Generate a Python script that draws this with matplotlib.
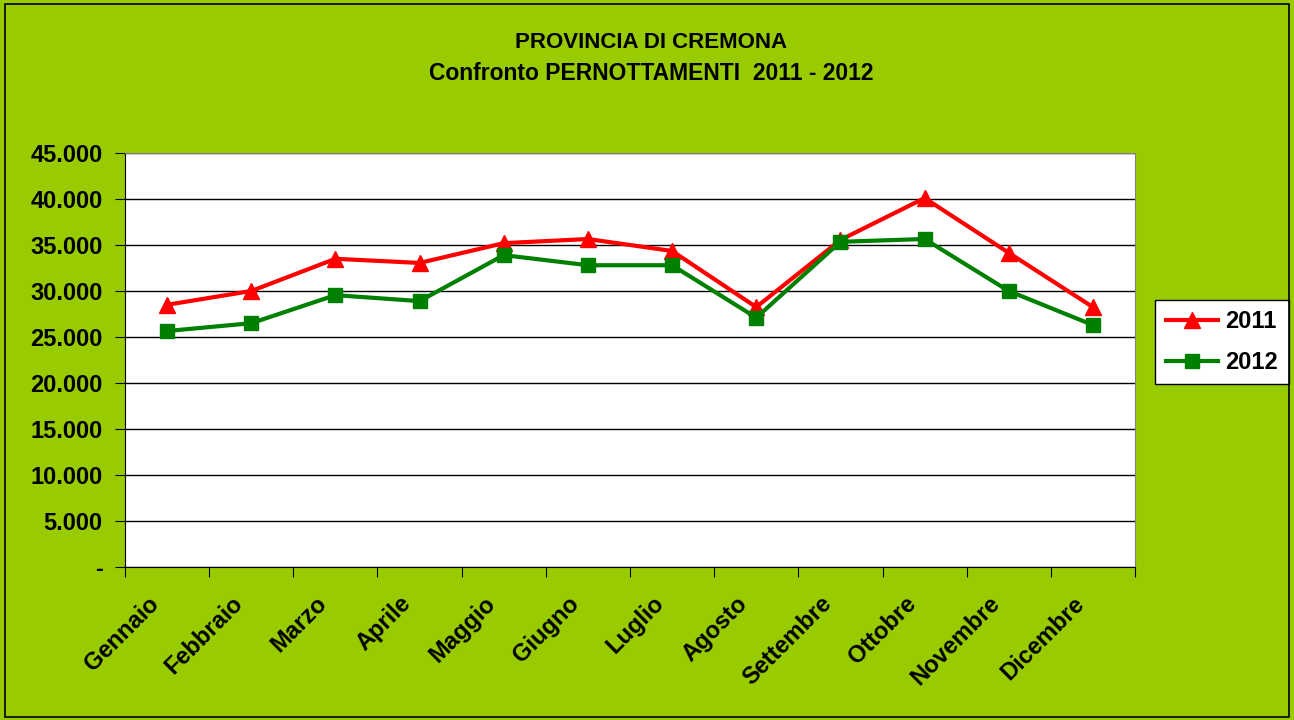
import matplotlib
matplotlib.use("Agg")
import matplotlib.pyplot as plt
from matplotlib.ticker import FuncFormatter, MultipleLocator
from matplotlib.patches import Rectangle
from matplotlib.transforms import ScaledTranslation

months = ["Gennaio", "Febbraio", "Marzo", "Aprile", "Maggio", "Giugno",
          "Luglio", "Agosto", "Settembre", "Ottobre", "Novembre", "Dicembre"]
v2011 = [28500, 30000, 33500, 33050, 35200, 35650, 34350, 28250, 35550, 40100, 34150, 28250]
v2012 = [25650, 26500, 29550, 28900, 33900, 32800, 32800, 27100, 35350, 35650, 30000, 26300]

plt.rcParams['font.family'] = ['Liberation Sans', 'DejaVu Sans']
BG = "#99CC00"

fig = plt.figure(figsize=(12.94, 7.2), dpi=100, facecolor=BG)
fig.patches.append(Rectangle((0.004, 0.004), 0.992, 0.99, transform=fig.transFigure,
                             fill=False, edgecolor="black", linewidth=1.2))
ax = fig.add_axes([125/1294, 1-567/720, (1135-125)/1294, (567-153)/720])
ax.set_facecolor("white")

x = list(range(len(months)))
ax.plot(x, v2011, color="#FF0000", lw=3, marker="^", ms=11, label="2011", zorder=3)
ax.plot(x, v2012, color="#008000", lw=3, marker="s", ms=10, label="2012", zorder=3)

ax.set_xlim(-0.5, 11.5)
ax.set_ylim(0, 45000)
ax.yaxis.set_major_locator(MultipleLocator(5000))
ax.yaxis.set_major_formatter(FuncFormatter(lambda v, p: "-" if v == 0 else f"{int(v):,}".replace(",", ".")))
ax.grid(axis="y", color="black", lw=1)
ax.set_axisbelow(True)
ax.set_xticks([i - 0.5 for i in range(13)])
ax.set_xticklabels([])
ax.tick_params(axis="x", which="major", length=7, direction="out", color="black")
ax.tick_params(axis="y", length=7, labelsize=17, color="black", pad=9)
for t in ax.get_yticklabels():
    t.set_fontweight("bold")
for s in ["top", "right"]:
    ax.spines[s].set_color("#808080")
for s in ["left", "bottom"]:
    ax.spines[s].set_color("black")

lab_tr = ax.get_xaxis_transform() + ScaledTranslation(-0.12, -0.33, fig.dpi_scale_trans)
for i, m in zip(x, months):
    ax.text(i, 0, m, transform=lab_tr, rotation=45, ha="right", va="center",
            rotation_mode="anchor", fontsize=17, fontweight="bold", clip_on=False)

fig.text(651/1294, 1-42/720, "PROVINCIA DI CREMONA", ha="center", va="center",
         fontsize=16, fontweight="bold")
fig.text(651/1294, 1-73/720, "Confronto PERNOTTAMENTI  2011 - 2012", ha="center", va="center",
         fontsize=16.5, fontweight="bold")

leg = ax.legend(loc="center", bbox_to_anchor=(1222/1294, 1-342/720),
                bbox_transform=fig.transFigure, frameon=True,
                fancybox=False, edgecolor="black", framealpha=1, facecolor="white",
                prop={"weight": "bold", "size": 17},
                handlelength=2.2, borderpad=0.45, labelspacing=0.75, handletextpad=0.3,
                borderaxespad=0)
leg.get_frame().set_linewidth(1)

fig.savefig("out.png", dpi=100, facecolor=BG)
